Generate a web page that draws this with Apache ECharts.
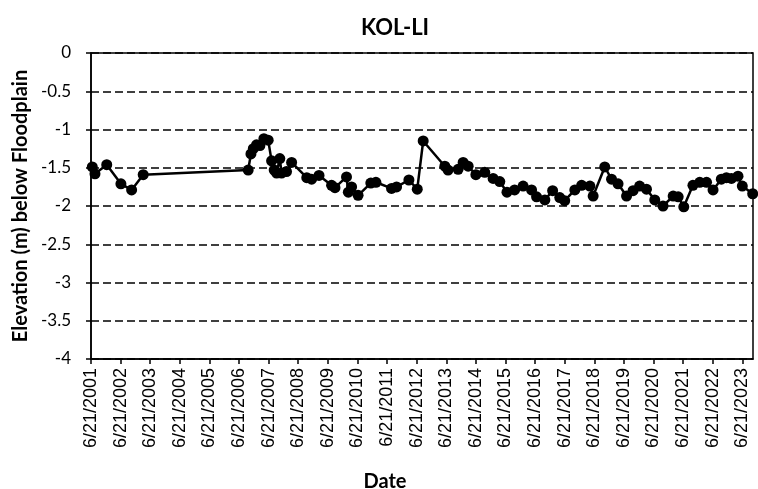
<!DOCTYPE html>
<html>
<head>
<meta charset="utf-8">
<script src="https://cdn.jsdelivr.net/npm/echarts@6/dist/echarts.min.js"></script>
<style>
html, body { margin: 0; padding: 0; background: #fff; }
#chart { width: 758px; height: 489px; }
</style>
</head>
<body>
<div id="chart"></div>
<script>
// survey dates and water table elevation (m below floodplain)
var dates = [
  '2001-07-07', '2001-08-09', '2002-01-01', '2002-06-25', '2002-11-04', '2003-03-27',
  '2006-10-12', '2006-11-15', '2006-12-14', '2007-01-23', '2007-03-06', '2007-04-24',
  '2007-06-16', '2007-07-28', '2007-08-29', '2007-09-28', '2007-11-06', '2007-11-28',
  '2008-01-28', '2008-03-31', '2008-10-04', '2008-12-03', '2009-03-04', '2009-08-06',
  '2009-09-17', '2010-02-06', '2010-03-01', '2010-04-10', '2010-06-29', '2010-12-03',
  '2011-02-04', '2011-08-16', '2011-10-17', '2012-03-17', '2012-06-28', '2012-09-09',
  '2013-06-03', '2013-07-13', '2013-11-14', '2014-01-15', '2014-03-18', '2014-06-21',
  '2014-10-09', '2015-01-20', '2015-04-12', '2015-07-10', '2015-10-12', '2016-01-25',
  '2016-05-08', '2016-07-09', '2016-10-19', '2017-01-23', '2017-04-21', '2017-06-21',
  '2017-10-24', '2018-01-16', '2018-04-28', '2018-06-07', '2018-10-28', '2019-01-20',
  '2019-04-10', '2019-07-24', '2019-10-12', '2020-01-01', '2020-03-26', '2020-07-06',
  '2020-10-16', '2021-02-18', '2021-04-21', '2021-06-29', '2021-10-20', '2022-01-12',
  '2022-04-06', '2022-06-25', '2022-10-05', '2022-12-07', '2023-02-07', '2023-04-29',
  '2023-06-21', '2023-10-27'
];
var elevation = [
  -1.49, -1.58, -1.46, -1.71, -1.79, -1.59,
  -1.53, -1.32, -1.25, -1.20, -1.21, -1.12,
  -1.14, -1.41, -1.53, -1.57, -1.38, -1.57,
  -1.55, -1.43, -1.63, -1.65, -1.60, -1.73,
  -1.76, -1.62, -1.82, -1.75, -1.86, -1.70,
  -1.69, -1.77, -1.75, -1.66, -1.78, -1.15,
  -1.48, -1.53, -1.52, -1.43, -1.48, -1.59,
  -1.56, -1.64, -1.68, -1.82, -1.79, -1.74,
  -1.79, -1.88, -1.92, -1.80, -1.89, -1.93,
  -1.79, -1.73, -1.74, -1.87, -1.49, -1.65,
  -1.71, -1.87, -1.80, -1.74, -1.78, -1.92,
  -2.00, -1.87, -1.88, -2.01, -1.73, -1.69,
  -1.69, -1.79, -1.65, -1.63, -1.64, -1.61,
  -1.74, -1.84
];

var startYear = 2001;
var startDate = Date.UTC(2001, 5, 21);
var DAY = 86400000;

// x in years since 6/21/2001
var seriesData = dates.map(function (d, i) {
  var p = d.split('-');
  var t = Date.UTC(+p[0], +p[1] - 1, +p[2]);
  return [(t - startDate) / (365.25 * DAY), elevation[i]];
});

var chart = echarts.init(document.getElementById('chart'));

var option = {
  backgroundColor: '#fff',
  animation: false,
  title: [
    {
      text: 'KOL-LI',
      left: 390,
      top: 12,
      textAlign: 'center',
      textStyle: { fontFamily: 'Lato', fontWeight: 'bold', fontSize: 22, color: '#000' }
    },
    {
      text: 'Date',
      left: 380,
      top: 467,
      textAlign: 'center',
      textStyle: { fontFamily: 'Lato', fontWeight: 'bold', fontSize: 20, color: '#000' }
    }
  ],
  grid: {
    left: 91,
    right: 5,
    top: 53,
    bottom: 130,
    show: true,
    borderColor: '#000',
    borderWidth: 1.5
  },
  xAxis: {
    type: 'value',
    min: 0,
    max: 22.36,
    interval: 1,
    axisLine: { show: true, onZero: false, lineStyle: { color: '#000', width: 1.5 } },
    axisTick: { show: true, length: 5, lineStyle: { color: '#000', width: 1.5 } },
    splitLine: { show: false },
    axisLabel: {
      rotate: 90,
      margin: 9,
      fontFamily: 'Liberation Sans',
      fontSize: 18,
      color: '#000',
      showMaxLabel: false,
      formatter: function (v) {
        return '6/21/' + (startYear + Math.round(v));
      }
    }
  },
  yAxis: {
    type: 'value',
    min: -4,
    max: 0,
    interval: 0.5,
    name: 'Elevation (m) below Floodplain',
    nameLocation: 'middle',
    nameGap: 56,
    nameTextStyle: { fontFamily: 'Lato', fontWeight: 'bold', fontSize: 20, color: '#000' },
    axisLine: { show: true, lineStyle: { color: '#000', width: 1.5 } },
    axisTick: { show: true, length: 5, lineStyle: { color: '#000', width: 1.5 } },
    axisLabel: {
      margin: 20,
      fontFamily: 'Lato',
      fontSize: 17,
      color: '#000'
    },
    splitLine: {
      show: true,
      lineStyle: { color: '#000', width: 1.5, type: [8, 4] }
    }
  },
  series: [
    {
      type: 'line',
      data: seriesData,
      symbol: 'circle',
      symbolSize: 11,
      showAllSymbol: true,
      clip: true,
      itemStyle: { color: '#000' },
      lineStyle: { color: '#000', width: 2.5 }
    }
  ]
};

chart.setOption(option);
</script>
</body>
</html>
